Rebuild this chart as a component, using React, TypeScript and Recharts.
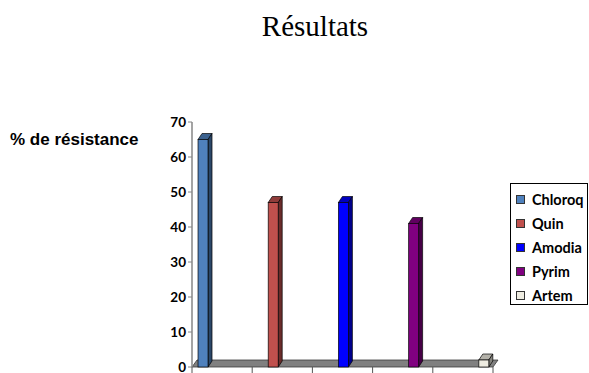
import React from 'react';
import { BarChart, Bar, XAxis, YAxis, Legend, ReferenceLine } from 'recharts';

// Categories along the horizontal axis (one drug per slot)
const categories = ['Chloroq', 'Quin', 'Amodia', 'Pyrim', 'Artem'];

// Resistance percentage per drug; each series only has a value in its own slot
const chloroqValues = [65, null, null, null, null];
const quinValues = [null, 47, null, null, null];
const amodiaValues = [null, null, 47, null, null];
const pyrimValues = [null, null, null, 41, null];
const artemValues = [null, null, null, null, 2];

const yTicks = [0, 10, 20, 30, 40, 50, 60, 70];

const series = [
  { key: 'chloroq', name: 'Chloroq', values: chloroqValues, color: '#4F81BD' },
  { key: 'quin', name: 'Quin', values: quinValues, color: '#C0504D' },
  { key: 'amodia', name: 'Amodia', values: amodiaValues, color: '#0000FF' },
  { key: 'pyrim', name: 'Pyrim', values: pyrimValues, color: '#800080' },
  { key: 'artem', name: 'Artem', values: artemValues, color: '#EEECE1' },
];

const data = categories.map((cat, i) => {
  const row: Record<string, string | number | null> = { cat };
  series.forEach((s) => {
    row[s.key] = s.values[i];
  });
  return row;
});

// darken a hex colour by a factor
function shade(hex: string, f: number): string {
  const n = parseInt(hex.slice(1), 16);
  const r = Math.round(((n >> 16) & 255) * f);
  const g = Math.round(((n >> 8) & 255) * f);
  const b = Math.round((n & 255) * f);
  return `rgb(${r},${g},${b})`;
}

const DEPTH_X = 4;
const DEPTH_Y = 6;
const EDGE = 'rgba(0,0,0,0.85)';

// Bar drawn as a small 3D column: front face, top and right side
const Column3D = (props: any) => {
  const { x, y, width, height, fill, value } = props;
  if (value == null || !height || height <= 0) return null;
  const top = shade(fill, 0.75);
  const side = shade(fill, 0.55);
  return (
    <g>
      <polygon
        points={`${x},${y} ${x + DEPTH_X},${y - DEPTH_Y} ${x + width + DEPTH_X},${y - DEPTH_Y} ${x + width},${y}`}
        fill={top}
        stroke={EDGE}
        strokeWidth={0.8}
        strokeLinejoin="round"
      />
      <polygon
        points={`${x + width},${y} ${x + width + DEPTH_X},${y - DEPTH_Y} ${x + width + DEPTH_X},${y + height - DEPTH_Y} ${x + width},${y + height}`}
        fill={side}
        stroke={EDGE}
        strokeWidth={0.8}
        strokeLinejoin="round"
      />
      <rect x={x} y={y} width={width} height={height} fill={fill} stroke={EDGE} strokeWidth={0.8} />
    </g>
  );
};

// Grey floor slab along the zero line
const Floor = (props: any) => {
  const { x1, y1, x2 } = props;
  if (x1 == null || x2 == null || y1 == null) return null;
  const fx = 5;
  const fy = 7;
  return (
    <polygon
      points={`${x1},${y1} ${x2},${y1} ${x2 + fx},${y1 - fy} ${x1 + fx},${y1 - fy}`}
      fill="#808080"
      stroke="#3a3a3a"
      strokeWidth={0.8}
    />
  );
};

// Tick marks sit on the boundaries between category slots, not at their centres
const BoundaryTick = (props: any) => {
  const { x, y, payload, index, visibleTicksCount } = props;
  const half = payload && payload.offset ? payload.offset : 0;
  const left = x - half;
  const isLast = index === visibleTicksCount - 1;
  return (
    <g>
      <line x1={left} y1={y} x2={left} y2={y + 6} stroke="#555" strokeWidth={1} />
      {isLast && <line x1={x + half} y1={y} x2={x + half} y2={y + 6} stroke="#555" strokeWidth={1} />}
    </g>
  );
};

const LegendBox = (props: any) => {
  const payload = props.payload || [];
  const ordered = series
    .map((s) => payload.find((p: any) => p.value === s.name))
    .filter(Boolean);
  return (
    <div
      style={{
        width: 78,
        height: 122,
        boxSizing: 'border-box',
        border: '1px solid #000',
        background: '#fff',
        padding: '4px 0 0 5px',
        fontFamily: 'Lato, sans-serif',
        fontWeight: 700,
        fontSize: 14.5,
        color: '#000',
      }}
    >
      {ordered.map((p: any) => (
        <div key={p.value} style={{ display: 'flex', alignItems: 'center', height: 23.8 }}>
          <span
            style={{
              display: 'inline-block',
              width: 9,
              height: 9,
              boxSizing: 'border-box',
              background: p.color,
              border: '1px solid #333',
              marginRight: 7,
            }}
          />
          <span style={{ whiteSpace: 'nowrap' }}>{p.value}</span>
        </div>
      ))}
    </div>
  );
};

export default function App() {
  return (
    <div style={{ position: 'absolute', left: 0, top: 0, width: 589, height: 373, background: '#fff', overflow: 'hidden' }}>
      <BarChart
        width={589}
        height={373}
        data={data}
        margin={{ top: 122, right: 96, bottom: 0, left: 0 }}
        barGap={0}
        barCategoryGap="10%"
      >
        <XAxis
          dataKey="cat"
          axisLine={false}
          tickLine={false}
          tick={BoundaryTick}
          tickSize={0}
          tickMargin={0}
          height={6}
          interval={0}
        />
        <YAxis
          domain={[0, 70]}
          ticks={yTicks}
          width={192}
          axisLine={{ stroke: '#868686', strokeWidth: 1.5 }}
          tickLine={{ stroke: '#868686' }}
          tickSize={4}
          tickMargin={2}
          tick={{ fill: '#000', fontFamily: 'Lato, sans-serif', fontWeight: 700, fontSize: 13.5 }}
          interval={0}
        />
        <ReferenceLine y={0} shape={Floor} ifOverflow="visible" zIndex={-10} />
        {series.map((s) => (
          <Bar
            key={s.key}
            dataKey={s.key}
            name={s.name}
            fill={s.color}
            shape={Column3D}
            isAnimationActive={false}
          />
        ))}
        <Legend
          layout="vertical"
          align="center"
          verticalAlign="middle"
          content={LegendBox}
          wrapperStyle={{ left: 510, top: 183, width: 78, height: 122 }}
        />
      </BarChart>
      <svg width={589} height={373} style={{ position: 'absolute', left: 0, top: 0, pointerEvents: 'none' }}>
        <text x={315} y={36} textAnchor="middle" fontFamily="'Liberation Serif', 'Times New Roman', serif" fontSize={29} fill="#000">
          Résultats
        </text>
        <text x={10} y={145} fontFamily="'Liberation Sans', Arial, sans-serif" fontWeight={700} fontSize={17} fill="#000">
          % de résistance
        </text>
      </svg>
    </div>
  );
}
